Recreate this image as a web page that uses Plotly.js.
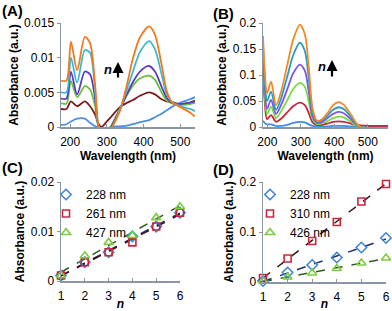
<!DOCTYPE html>
<html><head><meta charset="utf-8">
<script src="https://cdn.plot.ly/plotly-3.0.1.min.js"></script>
<style>html,body{margin:0;padding:0;background:#fff}#chart{width:392px;height:311px}</style>
</head><body><div id="chart"></div>
<script>
// ---------- Panel A: spectra (wavelength nm, absorbance) ----------
const wlA = [175,190,202,219,240,254,268,276,285,300,312,336,355,371,390,415,431,449,463,477,499,526,540];
const absA_n1 = [0.0003,0.0004,0.0008,0.0012,0.0012,0.0006,0.0001,0.0000,-0.0002,-0.0002,0.0000,0.0001,0.0002,0.0004,0.0007,0.0010,0.0014,0.0019,0.0024,0.0029,0.0035,0.0040,0.0043];
const absA_n2 = [0.0026,0.0026,0.0037,0.0030,0.0037,0.0030,0.0018,0.0006,0.0000,0.0008,0.0015,0.0029,0.0035,0.0039,0.0045,0.0050,0.0047,0.0040,0.0037,0.0036,0.0033,0.0035,0.0038];
const absA_n3 = [0.0034,0.0034,0.0066,0.0043,0.0059,0.0054,0.0030,0.0003,-0.0007,-0.0010,0.0002,0.0027,0.0046,0.0060,0.0070,0.0074,0.0068,0.0050,0.0038,0.0034,0.0032,0.0033,0.0035];
const absA_n4 = [0.0041,0.0041,0.0080,0.0047,0.0080,0.0076,0.0040,0.0003,-0.0008,-0.0012,0.0000,0.0026,0.0048,0.0065,0.0080,0.0088,0.0080,0.0058,0.0042,0.0035,0.0033,0.0035,0.0037];
const absA_n5 = [0.0050,0.0050,0.0100,0.0064,0.0111,0.0107,0.0052,0.0004,-0.0010,-0.0014,-0.0003,0.0026,0.0055,0.0080,0.0108,0.0124,0.0112,0.0076,0.0047,0.0036,0.0030,0.0026,0.0023];
const absA_n6 = [0.0067,0.0067,0.0123,0.0082,0.0130,0.0121,0.0060,0.0005,-0.0010,-0.0015,-0.0003,0.0024,0.0062,0.0099,0.0129,0.0145,0.0133,0.0090,0.0052,0.0036,0.0029,0.0021,0.0015];

// ---------- Panel B: spectra ----------
const wlB = [187,192,199,211,226,241,259,277,297,312,324,335,348,363,381,396,413,429,447,465,477,507,560];
const absB_n1 = [0.012,0.008,0.005,0.005,0.002,0.002,0.004,0.008,0.010,0.009,0.005,0.002,0.001,0.001,0.001,0.002,0.002,0.002,0.001,0.001,0.001,0.001,0.001];
const absB_n2 = [0.110,0.050,0.015,0.023,0.010,0.016,0.028,0.040,0.047,0.042,0.026,0.009,0.004,0.004,0.007,0.010,0.011,0.010,0.007,0.004,0.003,0.002,0.002];
const absB_n3 = [0.130,0.065,0.025,0.039,0.017,0.030,0.051,0.073,0.085,0.077,0.047,0.015,0.006,0.007,0.012,0.017,0.020,0.018,0.011,0.003,0.000,-0.002,-0.002];
const absB_n4 = [0.145,0.080,0.035,0.052,0.025,0.042,0.072,0.103,0.120,0.108,0.066,0.021,0.008,0.010,0.018,0.025,0.029,0.026,0.016,0.005,0.000,-0.002,-0.002];
const absB_n5 = [0.160,0.095,0.050,0.068,0.033,0.055,0.096,0.138,0.162,0.146,0.090,0.028,0.010,0.013,0.023,0.033,0.038,0.034,0.021,0.006,0.000,-0.002,-0.002];
const absB_n6 = [0.175,0.110,0.065,0.087,0.042,0.068,0.118,0.168,0.197,0.178,0.112,0.035,0.012,0.015,0.028,0.042,0.048,0.042,0.026,0.008,0.000,-0.002,-0.002];

// ---------- Panel C / D: absorbance vs n ----------
const nVals = [1,2,3,4,5,6];
const C_labels = ['228 nm','261 nm','427 nm'];
const C_228 = [0.0011,0.0038,0.0058,0.0090,0.0110,0.0138];
const C_261 = [0.0011,0.0038,0.0058,0.0078,0.0110,0.0138];
const C_427 = [0.0011,0.0051,0.0078,0.0092,0.0128,0.0150];
const D_labels = ['228 nm','310 nm','426 nm'];
const D_228 = [0.002,0.019,0.034,0.049,0.069,0.088];
const D_310 = [0.008,0.047,0.082,0.120,0.161,0.196];
const D_426 = [0.002,0.010,0.018,0.027,0.038,0.048];

const W = 392, H = 311;
const fx = p => p / W, fy = p => 1 - p / H;
const FONT = 'Liberation Sans, Arial, sans-serif';

const colA = ['#4a8fe0','#7a1c1c','#6cbf3f','#5b3cc4','#3db8d4','#f07a1e'];
const colB = ['#3f8fe8','#c8263c','#77dd3f','#7d55e6','#2a9cc4','#f28a24'];
const colMk = {blue:'#3d85d8', red:'#c8283c', green:'#7ccc3c'};

function fit(x, y) {
  const n = x.length;
  const mx = x.reduce((a,b)=>a+b,0)/n, my = y.reduce((a,b)=>a+b,0)/n;
  let sxy = 0, sxx = 0;
  for (let i=0;i<n;i++){ sxy += (x[i]-mx)*(y[i]-my); sxx += (x[i]-mx)*(x[i]-mx); }
  const b = sxy/sxx, a = my - b*mx;
  const xs = [x[0], x[n-1]];
  return {x: xs, y: xs.map(v => a + b*v)};
}

const traces = [];
[absA_n1,absA_n2,absA_n3,absA_n4,absA_n5,absA_n6].forEach((s,i)=>{
  traces.push({x: wlA, y: s, type:'scatter', mode:'lines', xaxis:'x', yaxis:'y', showlegend:false,
    line:{color: colA[i], width:1.8, shape:'spline', smoothing:0.8}, hoverinfo:'skip'});
});
[absB_n1,absB_n2,absB_n3,absB_n4,absB_n5,absB_n6].forEach((s,i)=>{
  traces.push({x: wlB, y: s, type:'scatter', mode:'lines', xaxis:'x2', yaxis:'y2', showlegend:false,
    line:{color: colB[i], width:1.8, shape:'spline', smoothing:0.8}, hoverinfo:'skip'});
});

// trend lines
const trendC = [[C_228,'#1f2f5f'],[C_261,'#3a1414'],[C_427,'#2f5a22']];
trendC.forEach(([s,c])=>{ const f = fit(nVals,s);
  traces.push({x:f.x, y:f.y, type:'scatter', mode:'lines', xaxis:'x3', yaxis:'y3', showlegend:false,
    line:{color:c, width:1.5, dash:'dash'}, hoverinfo:'skip'}); });
const trendD = [[D_228,'#1f2f6f'],[D_310,'#3a1414'],[D_426,'#2f5a22']];
trendD.forEach(([s,c])=>{ const f = fit(nVals,s);
  traces.push({x:f.x, y:f.y, type:'scatter', mode:'lines', xaxis:'x4', yaxis:'y4', showlegend:false,
    line:{color:c, width:1.5, dash:'dash'}, hoverinfo:'skip'}); });

const mk = (sym,col,sz) => ({symbol:sym, size:sz, color:col, line:{color:col, width:1.6}});
traces.push({x:nVals, y:C_228, name:C_labels[0], type:'scatter', mode:'markers', xaxis:'x3', yaxis:'y3', legend:'legend', cliponaxis:false, marker:mk('diamond-open',colMk.blue,8)});
traces.push({x:nVals, y:C_261, name:C_labels[1], type:'scatter', mode:'markers', xaxis:'x3', yaxis:'y3', legend:'legend', cliponaxis:false, marker:mk('square-open',colMk.red,7)});
traces.push({x:nVals, y:C_427, name:C_labels[2], type:'scatter', mode:'markers', xaxis:'x3', yaxis:'y3', legend:'legend', cliponaxis:false, marker:mk('triangle-up-open',colMk.green,8)});
traces.push({x:nVals, y:D_228, name:D_labels[0], type:'scatter', mode:'markers', xaxis:'x4', yaxis:'y4', legend:'legend2', cliponaxis:false, marker:mk('diamond-open',colMk.blue,8)});
traces.push({x:nVals, y:D_310, name:D_labels[1], type:'scatter', mode:'markers', xaxis:'x4', yaxis:'y4', legend:'legend2', cliponaxis:false, marker:mk('square-open',colMk.red,7)});
traces.push({x:nVals, y:D_426, name:D_labels[2], type:'scatter', mode:'markers', xaxis:'x4', yaxis:'y4', legend:'legend2', cliponaxis:false, marker:mk('triangle-up-open',colMk.green,8)});

const AX = '#8a96a3';
function xax(dom, anchor, range, dtick, title, extra) {
  return Object.assign({domain:dom, anchor:anchor, range:range, dtick:dtick, tick0:0,
    showline:true, linecolor:AX, linewidth:1.5, ticks:'inside', ticklen:3, tickcolor:AX,
    showgrid:false, zeroline:false, tickfont:{size:12, color:'#000'}, ticklabelstandoff:3,
    title:{text:title, font:{size:12, color:'#000'}, standoff:1}}, extra||{});
}
function yax(dom, anchor, range, dtick, extra) {
  return Object.assign({domain:dom, anchor:anchor, range:range, dtick:dtick, tick0:0,
    showline:true, linecolor:AX, linewidth:1.5, ticks:'outside', ticklen:3, tickcolor:AX,
    showgrid:false, zeroline:false, tickfont:{size:12, color:'#000'},
    title:{text:'<b>Absorbance (a.u.)</b>', font:{size:12, color:'#000'}, standoff:3}}, extra||{});
}

const layout = {
  width:W, height:H, autosize:false, margin:{l:0,r:0,t:0,b:0},
  paper_bgcolor:'#fff', plot_bgcolor:'#fff', font:{family:FONT, color:'#000'},
  xaxis:  xax([fx(61),fx(195)],'y',[175,540],100,'<b>Wavelength (nm)</b>'),
  yaxis:  yax([fy(127),fy(23)],'x',[0,0.015],0.005),
  xaxis2: xax([fx(263),fx(388)],'y2',[187,560],100,'<b>Wavelength (nm)</b>'),
  yaxis2: yax([fy(127),fy(23)],'x2',[0,0.2],0.05),
  xaxis3: xax([fx(61),fx(180)],'y3',[1,6],1,'<b><i>n</i></b>'),
  yaxis3: yax([fy(281),fy(182)],'x3',[0,0.02],0.01),
  xaxis4: xax([fx(263),fx(386)],'y4',[1,6],1,'<b><i>n</i></b>'),
  yaxis4: yax([fy(282),fy(182)],'x4',[0,0.2],0.1),
  legend:  {x:fx(46), y:fy(180), xanchor:'left', yanchor:'top', bgcolor:'rgba(0,0,0,0)', font:{size:12}, itemwidth:30},
  legend2: {x:fx(250), y:fy(180), xanchor:'left', yanchor:'top', bgcolor:'rgba(0,0,0,0)', font:{size:12}, itemwidth:30},
  annotations: [
    {text:'<b>(A)</b>', xref:'paper', yref:'paper', x:0, y:1, xanchor:'left', yanchor:'top', showarrow:false, font:{size:15}},
    {text:'<b>(B)</b>', xref:'paper', yref:'paper', x:fx(211), y:fy(3), xanchor:'left', yanchor:'top', showarrow:false, font:{size:15}},
    {text:'<b>(C)</b>', xref:'paper', yref:'paper', x:0, y:fy(157), xanchor:'left', yanchor:'top', showarrow:false, font:{size:15}},
    {text:'<b>(D)</b>', xref:'paper', yref:'paper', x:fx(211), y:fy(159), xanchor:'left', yanchor:'top', showarrow:false, font:{size:15}},
    {text:'<b><i>n</i></b>', xref:'paper', yref:'paper', x:fx(108), y:fy(70), xanchor:'center', yanchor:'middle', showarrow:false, font:{size:13}},
    {text:'', xref:'paper', yref:'paper', x:fx(118), y:fy(62), ax:0, ay:17, showarrow:true, arrowhead:2, arrowsize:1, arrowwidth:2.2, arrowcolor:'#000'},
    {text:'<b><i>n</i></b>', xref:'paper', yref:'paper', x:fx(322), y:fy(66), xanchor:'center', yanchor:'middle', showarrow:false, font:{size:13}},
    {text:'', xref:'paper', yref:'paper', x:fx(332), y:fy(60), ax:0, ay:18, showarrow:true, arrowhead:2, arrowsize:1, arrowwidth:2.2, arrowcolor:'#000'}
  ]
};

Plotly.newPlot('chart', traces, layout, {staticPlot:true, displayModeBar:false});
</script>
</body></html>
